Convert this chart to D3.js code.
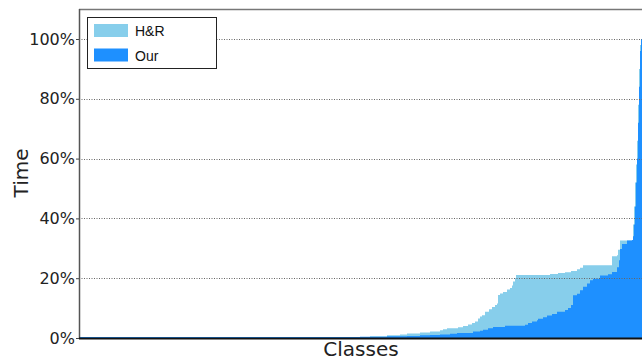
<!DOCTYPE html>
<html>
<head>
<meta charset="utf-8">
<script src="https://cdn.jsdelivr.net/npm/d3@7"></script>
<style>
  html, body { margin: 0; padding: 0; background: #fff; }
  svg { display: block; }
</style>
</head>
<body>
<svg id="chart" width="642" height="360"></svg>
<script>
// Share of time per class (sorted), drawn as step areas.
const classCount = 564;

// H&R: class index where a step starts, and its value (%)
const hrClass = [0, 271, 291, 308, 321, 328, 341, 351, 361, 364, 368, 379, 384, 389, 393, 396, 399, 401, 403, 406, 410, 413, 416, 418, 419, 421, 424, 428, 431, 433, 434, 436, 437, 471, 479, 486, 492, 498, 501, 504, 533, 538, 539, 541, 554, 555, 556, 557, 558, 559, 560, 561, 562, 564];
const hrValue = [0, 0.3, 0.6, 0.9, 1.2, 1.5, 1.8, 2.2, 2.6, 2.9, 3.3, 3.6, 4.0, 4.5, 5.0, 5.5, 6.5, 7.2, 7.6, 8.8, 9.6, 10.4, 11.0, 11.5, 14.4, 14.9, 15.4, 16.2, 16.7, 17.6, 18.9, 20.0, 21.1, 21.4, 21.7, 22.0, 22.4, 23.0, 23.5, 24.3, 27.3, 27.7, 29.5, 32.6, 38, 44, 52, 58, 66, 78, 90, 98, 100, 100];

// Our method
const ourClass = [0, 281, 308, 328, 341, 351, 361, 371, 378, 394, 401, 404, 409, 414, 426, 446, 449, 453, 458, 459, 464, 468, 473, 478, 486, 489, 492, 494, 498, 501, 504, 508, 511, 514, 521, 529, 533, 538, 540, 541, 543, 548, 553, 554, 555, 556, 557, 558, 559, 560, 561, 562, 564];
const ourValue = [0.3, 0.4, 0.6, 0.7, 0.9, 1.0, 1.2, 1.4, 1.7, 2.2, 2.4, 2.8, 3.3, 3.7, 4.1, 4.4, 5.0, 5.5, 5.9, 6.4, 6.9, 7.5, 8.0, 8.8, 9.4, 10.0, 11.0, 14.3, 14.8, 16.0, 17.1, 18.2, 19.3, 19.8, 20.9, 21.3, 22.1, 23.7, 26, 29.8, 31.4, 32.6, 32.8, 34, 38, 44, 52, 60, 72, 84, 96, 100, 100];

const yTicks = [0, 20, 40, 60, 80, 100];
const seriesNames = ["H&R", "Our"];
const seriesColors = ["#87ceeb", "#1e90ff"];

const margin = { left: 79, top: 9, bottom: 338, right: 643 };
const svg = d3.select("#chart");

const x = d3.scaleLinear().domain([0, classCount]).range([margin.left, margin.right]);
const y = d3.scaleLinear().domain([0, 110]).range([margin.bottom, margin.bottom - 110 * 2.99]);

const hrData = hrClass.map((c, i) => ({ c, v: hrValue[i] }));
const ourData = ourClass.map((c, i) => ({ c, v: ourValue[i] }));

const area = d3.area()
  .curve(d3.curveStepAfter)
  .x(d => x(d.c))
  .y0(y(0))
  .y1(d => y(d.v));

svg.append("path").datum(hrData).attr("d", area).attr("fill", seriesColors[0]);
svg.append("path").datum(ourData).attr("d", area).attr("fill", seriesColors[1]);

// Gridlines drawn over the areas
svg.append("g")
  .selectAll("line")
  .data(yTicks.filter(t => t > 0))
  .join("line")
  .attr("x1", margin.left).attr("x2", 642)
  .attr("y1", d => Math.round(y(d)) + 0.5).attr("y2", d => Math.round(y(d)) + 0.5)
  .attr("stroke", "#666")
  .attr("stroke-width", 1)
  .attr("stroke-dasharray", "1,1.5");

// Frame: top border
svg.append("line")
  .attr("x1", margin.left).attr("x2", 642)
  .attr("y1", margin.top + 0.5).attr("y2", margin.top + 0.5)
  .attr("stroke", "#777").attr("stroke-width", 1.5);

// Y axis
const yAxis = d3.axisLeft(y).tickValues(yTicks).tickFormat(d => d + "%").tickSize(3).tickPadding(1);
const yg = svg.append("g").attr("transform", `translate(${margin.left},0)`).call(yAxis);
yg.select(".domain").remove();
yg.selectAll(".tick line").attr("stroke", "#444");
yg.selectAll(".tick text")
  .attr("font-family", "DejaVu Sans, sans-serif")
  .attr("font-size", 16)
  .attr("fill", "#222");
svg.append("line")
  .attr("x1", margin.left + 0.5).attr("x2", margin.left + 0.5)
  .attr("y1", margin.top).attr("y2", margin.bottom)
  .attr("stroke", "#555").attr("stroke-width", 1.5);

// X axis baseline
svg.append("line")
  .attr("x1", margin.left).attr("x2", 642)
  .attr("y1", margin.bottom + 0.5).attr("y2", margin.bottom + 0.5)
  .attr("stroke", "#111").attr("stroke-width", 2);

// Axis titles
svg.append("text")
  .attr("x", 361).attr("y", 356)
  .attr("text-anchor", "middle")
  .attr("font-family", "DejaVu Sans, sans-serif")
  .attr("font-size", 20).attr("fill", "#222")
  .text("Classes");
svg.append("text")
  .attr("transform", "translate(28,173) rotate(-90)")
  .attr("text-anchor", "middle")
  .attr("font-family", "DejaVu Sans, sans-serif")
  .attr("font-size", 20).attr("fill", "#222")
  .text("Time");

// Legend
const legend = svg.append("g");
legend.append("rect")
  .attr("x", 87.5).attr("y", 17.5).attr("width", 129).attr("height", 51)
  .attr("fill", "#fff").attr("stroke", "#222").attr("stroke-width", 1);
seriesNames.forEach((name, i) => {
  legend.append("rect")
    .attr("x", 94).attr("y", 24 + i * 24.5).attr("width", 34).attr("height", 13)
    .attr("fill", seriesColors[i]);
  legend.append("text")
    .attr("x", 135).attr("y", 36 + i * 24.5)
    .attr("font-family", "Liberation Sans, Arial, sans-serif")
    .attr("font-size", 14).attr("fill", "#111")
    .text(name);
});
</script>
</body>
</html>
